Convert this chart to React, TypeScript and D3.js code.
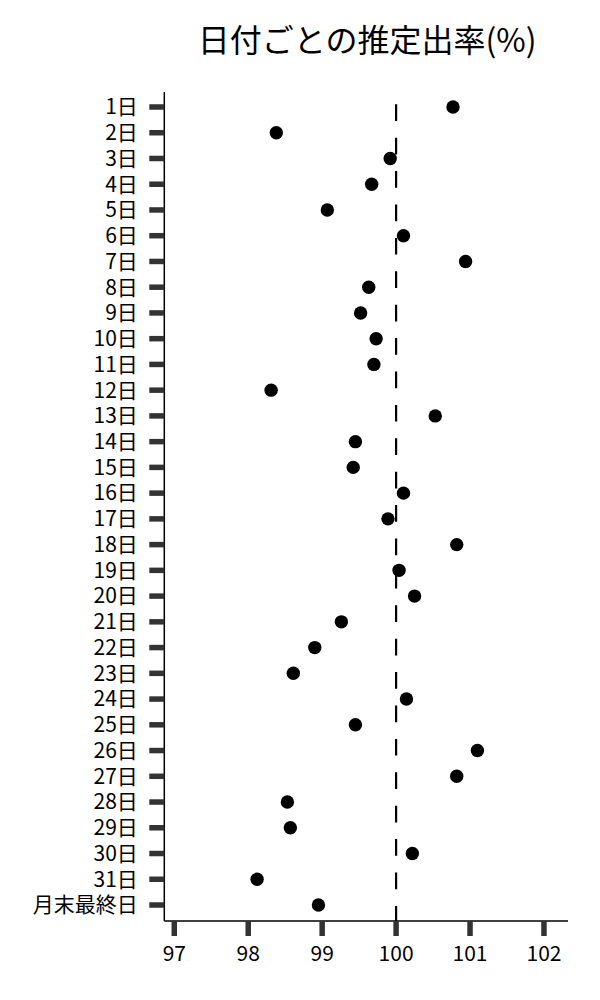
import React from "react";
import * as d3 from "d3";

const days: string[] = [
  "1日","2日","3日","4日","5日","6日","7日","8日","9日","10日",
  "11日","12日","13日","14日","15日","16日","17日","18日","19日","20日",
  "21日","22日","23日","24日","25日","26日","27日","28日","29日","30日",
  "31日","月末最終日",
];
const rates: number[] = [
  100.77, 98.38, 99.92, 99.67, 99.07, 100.1, 100.94, 99.63, 99.52, 99.73,
  99.7, 98.31, 100.53, 99.45, 99.42, 100.1, 99.89, 100.82, 100.04, 100.25,
  99.26, 98.9, 98.61, 100.14, 99.45, 101.1, 100.82, 98.53, 98.57, 100.22,
  98.12, 98.95,
];
const xTicks: number[] = [97, 98, 99, 100, 101, 102];
const refValue = 100;
const title = "日付ごとの推定出率(%)";

const W = 600;
const H = 1000;
const FONT = "'Noto Sans CJK JP', 'Noto Sans', sans-serif";

export default function App() {
  const left = 164.3;
  const right = 568;
  const top = 92;
  const bottom = 921;
  const x = d3.scaleLinear().domain([96.865, 102.325]).range([left, right]);
  const y = d3.scalePoint<string>().domain(days).range([107, 905]);
  const tickColor = "#333";

  return (
    <svg
      width={W}
      height={H}
      style={{ position: "absolute", left: 0, top: 0, background: "#fff" }}
      fontFamily={FONT}
    >
      <text
        x={(left + right) / 2 + 1}
        y={52}
        textAnchor="middle"
        fontSize={32}
        fill="#000"
      >
        {title}
      </text>

      {/* reference line */}
      <line
        x1={x(refValue)}
        x2={x(refValue)}
        y1={104.3}
        y2={bottom}
        stroke="#000"
        strokeWidth={2.2}
        strokeDasharray="16.7 16.7"
      />

      {/* points */}
      {rates.map((v, i) => (
        <circle key={i} cx={x(v)} cy={y(days[i])!} r={6.7} fill="#000" />
      ))}

      {/* y axis */}
      <line x1={left} x2={left} y1={top} y2={bottom} stroke="#000" strokeWidth={1.5} />
      {days.map((d) => (
        <g key={d} transform={`translate(0,${y(d)})`}>
          <line x1={left - 15} x2={left} y1={0} y2={0} stroke={tickColor} strokeWidth={5.5} />
          <text
            x={left - 26.5}
            y={0}
            dy="0.35em"
            textAnchor="end"
            fontSize={21}
            fill="#000"
          >
            {d}
          </text>
        </g>
      ))}

      {/* x axis */}
      <line x1={left} x2={right} y1={bottom} y2={bottom} stroke="#000" strokeWidth={1.5} />
      {xTicks.map((t) => (
        <g key={t} transform={`translate(${x(t)},0)`}>
          <line x1={0} x2={0} y1={bottom} y2={bottom + 15} stroke={tickColor} strokeWidth={5.5} />
          <text
            x={0}
            y={bottom + 33}
            dy="0.35em"
            textAnchor="middle"
            fontSize={21}
            fill="#000"
          >
            {t}
          </text>
        </g>
      ))}
    </svg>
  );
}
